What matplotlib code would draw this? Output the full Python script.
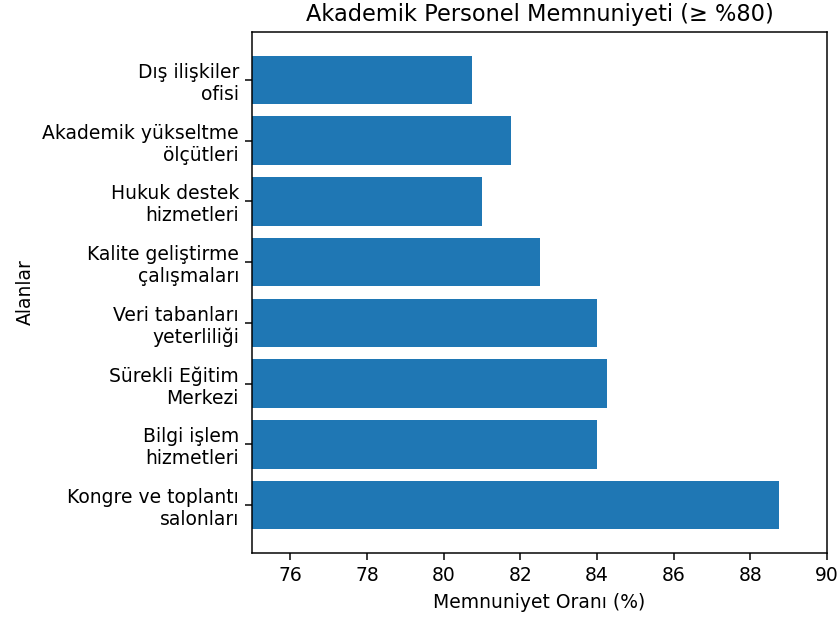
import matplotlib
matplotlib.use('Agg')
import matplotlib.pyplot as plt

# alanlar ve memnuniyet oranlari (alttan uste)
alanlar = ['Kongre ve toplantı\nsalonları', 'Bilgi işlem\nhizmetleri',
           'Sürekli Eğitim\nMerkezi', 'Veri tabanları\nyeterliliği',
           'Kalite geliştirme\nçalışmaları', 'Hukuk destek\nhizmetleri',
           'Akademik yükseltme\nölçütleri', 'Dış ilişkiler\nofisi']
oranlar = [88.75, 84.0, 84.25, 84.0, 82.5, 81.0, 81.75, 80.75]

dpi = 135
fig, ax = plt.subplots(figsize=(839 / dpi, 618 / dpi), dpi=dpi)
fig.subplots_adjust(left=0.3004, right=0.9857, top=0.9482, bottom=0.1052)

ax.barh(alanlar, oranlar, color='#1f77b4')
ax.set_xlim(75, 90)
ax.set_title('Akademik Personel Memnuniyeti (≥ %80)', fontsize=12)
ax.set_xlabel('Memnuniyet Oranı (%)')
ax.set_ylabel('Alanlar')

plt.savefig('out.png', dpi=dpi)
